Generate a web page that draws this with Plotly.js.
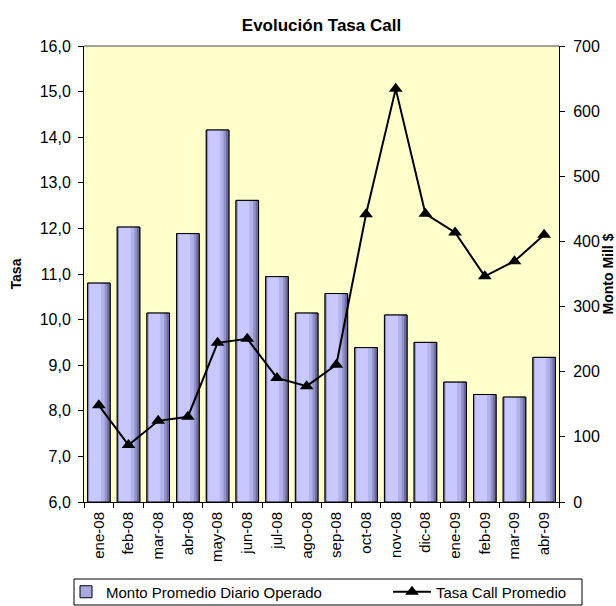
<!DOCTYPE html>
<html>
<head>
<meta charset="utf-8">
<script src="https://cdn.plot.ly/plotly-3.0.1.min.js"></script>
<style>html,body{margin:0;padding:0;background:#fff;}#chart{width:616px;height:606px;}</style>
</head>
<body>
<div id="chart"></div>
<script>
const categories = ["ene-08","feb-08","mar-08","abr-08","may-08","jun-08","jul-08","ago-08","sep-08","oct-08","nov-08","dic-08","ene-09","feb-09","mar-09","abr-09"];
const montoPromedio = [336, 422, 290, 412, 571, 463, 346, 290, 320, 237, 287, 245, 184, 165, 161, 222];
const tasaCall = [8.12, 7.25, 7.78, 7.87, 9.49, 9.58, 8.72, 8.54, 9.01, 12.31, 15.06, 12.32, 11.91, 10.95, 11.28, 11.86];

const FONT = "Liberation Sans, Arial, sans-serif";

function barLayer(color, offset, width, extra) {
  return Object.assign({
    type: "bar", x: categories, y: montoPromedio, yaxis: "y",
    offset: offset, width: width,
    marker: {color: color, line: {width: 0}},
    showlegend: false, hoverinfo: "skip"
  }, extra || {});
}

const traces = [
  barLayer("#7C7CB2", -0.38, 0.76, {name: "Monto Promedio Diario Operado", showlegend: true, legend: "legend",
    marker: {color: "#A8A8E0", line: {color: "#000", width: 1}}}),
  barLayer("#8C8CC2", -0.38, 0.06),
  barLayer("#C8C8FF", -0.32, 0.40),
  barLayer("#B2B2EA", 0.08, 0.12),
  barLayer("#9292C6", 0.20, 0.08),
  barLayer("#6C6C9E", 0.28, 0.10),
  barLayer("rgba(0,0,0,0)", -0.38, 0.76, {marker: {color: "rgba(0,0,0,0)", line: {color: "#000", width: 1}}}),
  {
    type: "scatter", mode: "lines+markers", x: categories, y: tasaCall, yaxis: "y2",
    name: "Tasa Call Promedio", legend: "legend2",
    line: {color: "#000", width: 2},
    marker: {symbol: "triangle-up", size: 12, color: "#000"}
  }
];

const legendBase = {
  orientation: "h", xref: "container", yref: "container", xanchor: "left", yanchor: "middle",
  y: (606 - 592) / 606, bgcolor: "rgba(0,0,0,0)", borderwidth: 0,
  font: {family: FONT, size: 15, color: "#000"}
};

const layout = {
  width: 616, height: 606,
  margin: {l: 84, r: 57, t: 46, b: 104},
  paper_bgcolor: "#fff",
  plot_bgcolor: "#FFFFCC",
  separators: ",.",
  font: {family: FONT, size: 15, color: "#000"},
  title: {text: "<b>Evolución Tasa Call</b>", font: {family: FONT, size: 17, color: "#000"},
          x: 0.5, xref: "paper", xanchor: "center", y: 1 - 25 / 606, yref: "container", yanchor: "middle"},
  barmode: "overlay",
  showlegend: true,
  legend: Object.assign({}, legendBase, {x: 66 / 616}),
  legend2: Object.assign({}, legendBase, {x: 388 / 616, itemwidth: 38}),
  xaxis: {type: "category", categoryorder: "array", categoryarray: categories, range: [-0.5, 15.5],
          tickangle: -90, ticks: "outside", tickson: "boundaries", ticklen: 5, tickcolor: "#000",
          ticklabelstandoff: 3,
          showline: true, linecolor: "#000", linewidth: 1, showgrid: false, zeroline: false,
          tickfont: {family: FONT, size: 15, color: "#000"}},
  yaxis: {range: [0, 700], dtick: 100, side: "right", ticks: "outside", ticklen: 5, tickcolor: "#000",
          ticklabelstandoff: 5,
          showline: true, linecolor: "#000", linewidth: 1, showgrid: false, zeroline: false,
          title: {text: "<b>Monto Mill $</b>", font: {family: FONT, size: 14, color: "#000"}, standoff: 4},
          tickfont: {family: FONT, size: 16, color: "#000"}},
  yaxis2: {range: [6, 16], dtick: 1, tickformat: ".1f", overlaying: "y", side: "left",
           ticks: "outside", ticklen: 5, tickcolor: "#000", ticklabelstandoff: 4,
           showline: true, linecolor: "#000", linewidth: 1, showgrid: false, zeroline: false,
           title: {text: "<b>Tasa</b>", font: {family: FONT, size: 14, color: "#000"}, standoff: 14},
           tickfont: {family: FONT, size: 16, color: "#000"}},
  shapes: [
    {type: "line", xref: "paper", yref: "paper", x0: 0, x1: 1, y0: 1, y1: 1,
     line: {color: "#808080", width: 1.5}},
    {type: "rect", xref: "paper", yref: "paper", x0: (74 - 84) / 475, x1: (582 - 84) / 475,
     y0: (502 - 605) / 456, y1: (502 - 579) / 456, line: {color: "#000", width: 1}, fillcolor: "rgba(0,0,0,0)"}
  ]
};

Plotly.newPlot("chart", traces, layout, {displayModeBar: false, staticPlot: true});
</script>
</body>
</html>
